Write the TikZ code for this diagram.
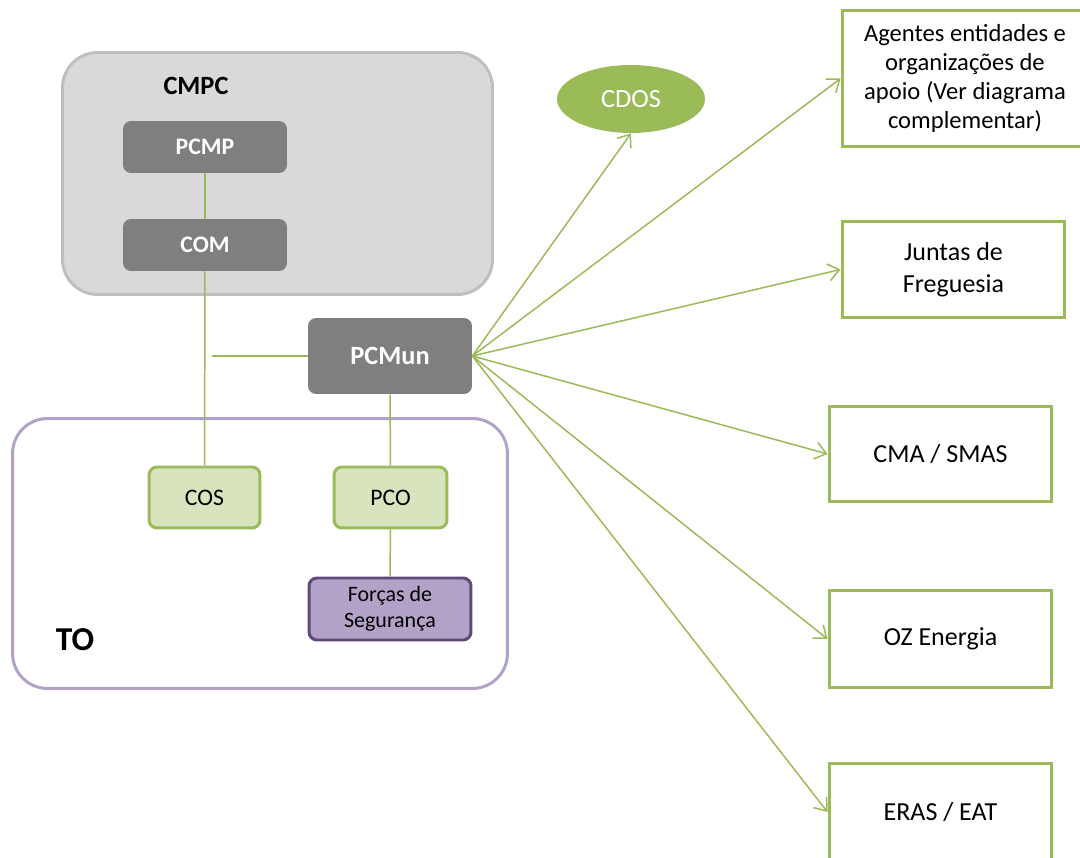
\documentclass[tikz,border=0pt]{standalone}
\usepackage{fontspec}
\setmainfont{Carlito}
\usetikzlibrary{arrows.meta, positioning, shapes.geometric}

\definecolor{boxgray}{HTML}{D9D9D9}
\definecolor{linegray}{HTML}{BFBFBF}
\definecolor{darkgray}{HTML}{7F7F7F}
\definecolor{olivegreen}{HTML}{9BBB59}
\definecolor{palegreen}{HTML}{D7E4BD}
\definecolor{lavender}{HTML}{B3A2C7}
\definecolor{darkpurple}{HTML}{5F497A}

\begin{document}
\begin{tikzpicture}[x = 0.02cm, y = -0.02cm,
    container/.style = {draw, line width=1.7pt, rounded corners=0.7cm, inner sep=0pt},
    graybox/.style = {fill=darkgray, rounded corners=0.16cm, text=white,
        font=\fontsize{13.5}{15}\selectfont\bfseries, inner sep=0pt},
    greenbox/.style = {draw=olivegreen, fill=palegreen, line width=1.7pt, rounded corners=0.16cm,
        font=\fontsize{13.5}{16}\selectfont, inner sep=0pt},
    outbox/.style = {draw=olivegreen, fill=white, line width=1.7pt, align=center,
        minimum width=4.46cm, font=\fontsize{14.8}{18}\selectfont, inner sep=0pt},
    link/.style = {draw=olivegreen, line width=0.85pt},
    arrow/.style = {link, -{Straight Barb[length=0.22cm, width=0.34cm]}}]

    \useasboundingbox (0,0) rectangle (1080,858);

    \node[container, draw=linegray, fill=boxgray, minimum width=8.6cm, minimum height=4.84cm]
        (cmpcbox) at (277.5,173.5) {};
    \node[font=\fontsize{15}{17}\selectfont\bfseries] (cmpclabel) at (196,86) {CMPC};

    \node[container, draw=lavender, fill=white, minimum width=9.9cm, minimum height=5.4cm]
        (tobox) at (260,553.5) {};
    \node[font=\fontsize{19}{21}\selectfont\bfseries] (tolabel) at (75,640) {TO};

    \node[graybox, minimum width=3.28cm, minimum height=1.04cm] (pcmp) at (205,147) {PCMP};
    \node[graybox, minimum width=3.28cm, minimum height=1.04cm] (com) at (205,245) {COM};
    \node[graybox, minimum width=3.28cm, minimum height=1.52cm,
        font=\fontsize{15}{17}\selectfont\bfseries] (pcmun) at (390,356) {PCMun};

    \node[greenbox, minimum width=2.22cm, minimum height=1.22cm] (cos) at (204.5,497.5) {COS};
    \node[greenbox, minimum width=2.26cm, minimum height=1.22cm] (pco) at (390.5,497.5) {PCO};
    \node[greenbox, draw=darkpurple, fill=lavender, minimum width=3.24cm, minimum height=1.24cm,
        align=center, font=\fontsize{12.5}{14.5}\selectfont] (forcas) at (390,609) {Forças de\\Segurança};

    \node[ellipse, fill=olivegreen, text=white, minimum width=2.96cm, minimum height=1.36cm,
        inner sep=0pt, font=\fontsize{15}{17}\selectfont] (cdos) at (631,99) {CDOS};

    \node[outbox, minimum width=4.92cm, minimum height=2.74cm,
        font=\fontsize{14}{16.5}\selectfont] (agentes) at (965,78.5)
        {Agentes entidades e\\organizações de\\apoio (Ver diagrama\\complementar)};
    \node[outbox, minimum height=1.94cm] (juntas) at (953.5,269.5) {Juntas de\\Freguesia};
    \node[outbox, minimum height=1.92cm] (cma) at (940.5,454) {CMA / SMAS};
    \node[outbox, minimum height=1.96cm] (oz) at (940.5,639) {OZ Energia};
    \node[outbox, minimum height=1.96cm] (eras) at (940.5,812) {ERAS / EAT};

    \coordinate (tee) at (212,356);

    \draw[link] (pcmp) -- (com);
    \draw[link] (com) -- (cos);
    \draw[link] (tee) -- (pcmun.west);
    \draw[link] (pcmun) -- (pco);
    \draw[link] (pco) -- (forcas);

    \draw[arrow] (pcmun.east) -- (cdos.south);
    \foreach \target in {agentes, juntas, cma, oz, eras}
        \draw[arrow] (pcmun.east) -- (\target.west);

\end{tikzpicture}
\end{document}
